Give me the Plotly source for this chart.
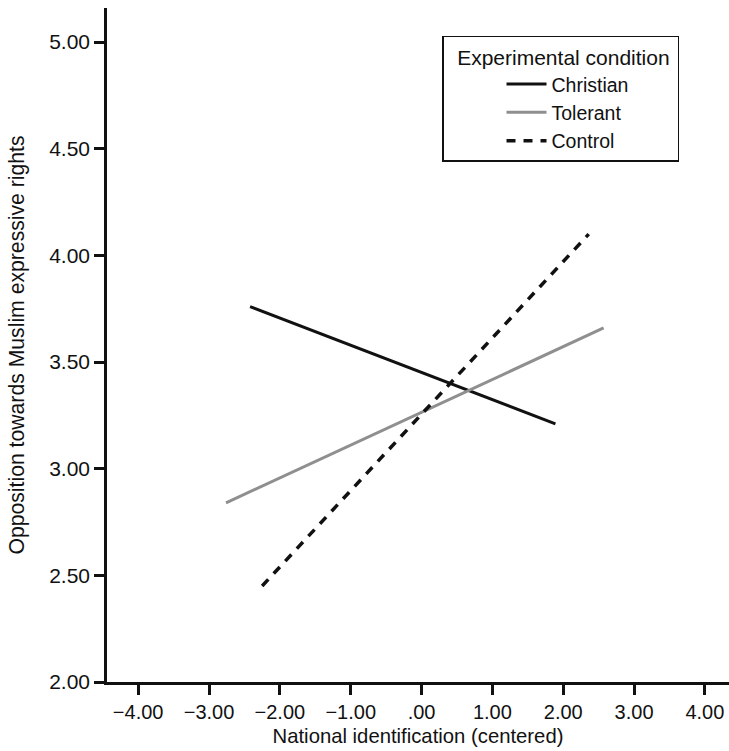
import plotly.graph_objects as go

# Data
conditions = ["Christian", "Tolerant", "Control"]
christian_x = [-2.42, 1.89]
christian_y = [3.76, 3.21]
tolerant_x = [-2.76, 2.57]
tolerant_y = [2.84, 3.66]
control_x = [-2.25, 2.36]
control_y = [2.45, 4.10]

x_tickvals = [-4, -3, -2, -1, 0, 1, 2, 3, 4]
x_ticktext = ["\u22124.00", "\u22123.00", "\u22122.00", "\u22121.00", ".00", "1.00", "2.00", "3.00", "4.00"]
y_tickvals = [2.0, 2.5, 3.0, 3.5, 4.0, 4.5, 5.0]
y_ticktext = ["2.00", "2.50", "3.00", "3.50", "4.00", "4.50", "5.00"]

FONT = "Arial, Liberation Sans, Helvetica, sans-serif"

fig = go.Figure()
fig.add_trace(go.Scatter(x=christian_x, y=christian_y, mode="lines", name=conditions[0],
                         line=dict(color="#111111", width=3)))
fig.add_trace(go.Scatter(x=tolerant_x, y=tolerant_y, mode="lines", name=conditions[1],
                         line=dict(color="#8f8f8f", width=3)))
fig.add_trace(go.Scatter(x=control_x, y=control_y, mode="lines", name=conditions[2],
                         line=dict(color="#111111", width=3.5, dash="9px,8px")))

fig.update_layout(
    width=729, height=751,
    margin=dict(l=107, r=0, t=8, b=69),
    paper_bgcolor="white", plot_bgcolor="white",
    font=dict(family=FONT, size=20, color="#111111"),
    showlegend=True,
    legend=dict(
        x=0.5386, y=0.9585, xanchor="left", yanchor="top",
        bgcolor="white", bordercolor="#111111", borderwidth=1.5,
        title=dict(text="\u00a0\u00a0Experimental condition\u00a0", font=dict(size=21)),
        font=dict(size=19.5),
        indentation=58,
        itemwidth=40,
        tracegroupgap=0,
    ),
    xaxis=dict(
        range=[-4.44, 4.34], tickmode="array", tickvals=x_tickvals, ticktext=x_ticktext,
        showline=True, linecolor="#111111", linewidth=2.5,
        ticks="outside", ticklen=10, tickwidth=2.5, tickcolor="#111111",
        showgrid=False, zeroline=False,
        title=dict(text="National identification (centered)", font=dict(size=20.3), standoff=8),
        tickfont=dict(size=20),
    ),
    yaxis=dict(
        range=[2.0, 5.16], tickmode="array", tickvals=y_tickvals, ticktext=y_ticktext,
        showline=True, linecolor="#111111", linewidth=2.5,
        ticks="outside", ticklen=10, tickwidth=2.5, tickcolor="#111111",
        showgrid=False, zeroline=False,
        title=dict(text="Opposition towards Muslim expressive rights", font=dict(size=21.2), standoff=19),
        tickfont=dict(size=21),
    ),
)

fig.write_html(
    "out.html",
    config={"displayModeBar": False},
    post_script="document.body.style.margin='0';document.body.style.overflow='hidden';",
)
